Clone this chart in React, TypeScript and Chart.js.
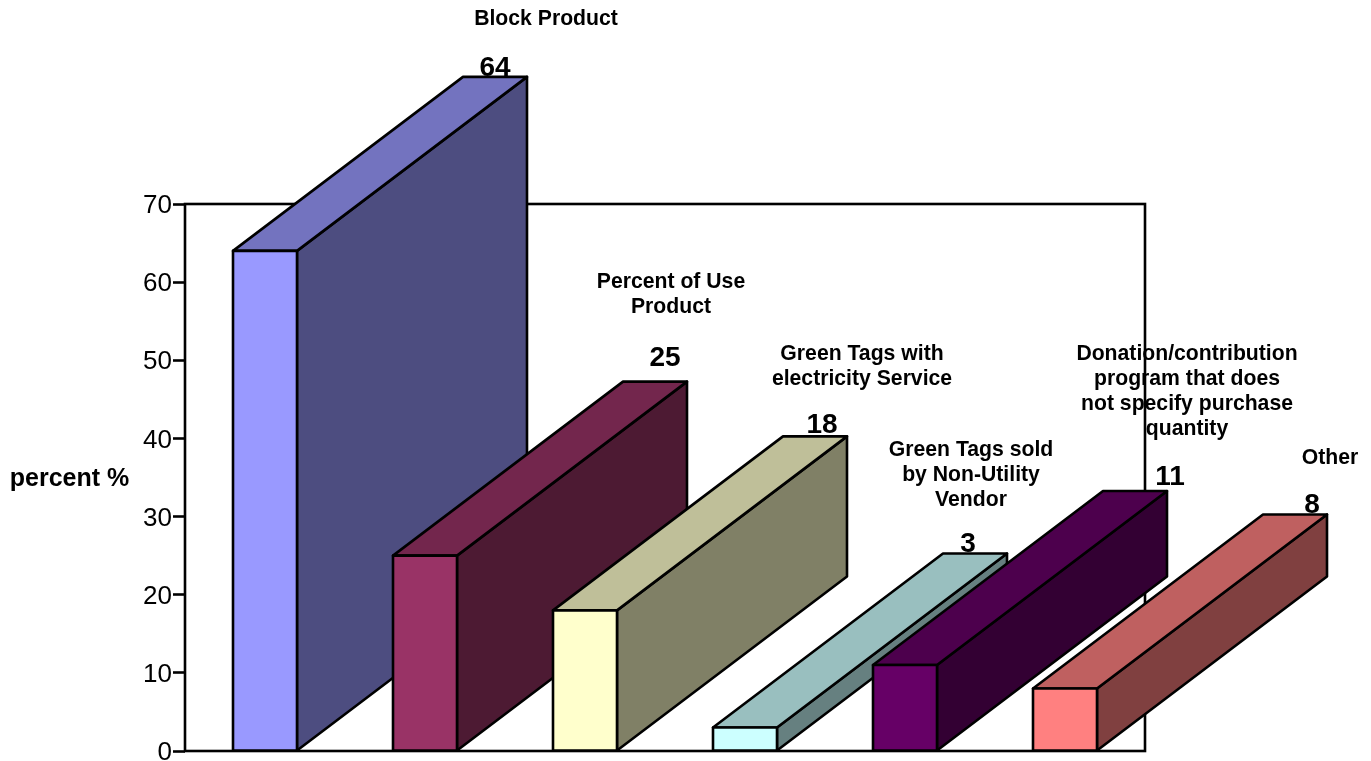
import React, { useEffect, useRef } from "react";
import { Chart, BarController, registerables } from "chart.js";

// Chart values
const categories = ["Block Product", "Percent of Use Product", "Green Tags with electricity Service", "Green Tags sold by Non-Utility Vendor", "Donation/contribution program that does not specify purchase quantity", "Other"];
const percentValues = [64, 25, 18, 3, 11, 8];
const yTicks = [0, 10, 20, 30, 40, 50, 60, 70];

// Wrapped caption lines for each bar
const captionLines = [
  ["Block Product"],
  ["Percent of Use", "Product"],
  ["Green Tags with", "electricity Service"],
  ["Green Tags sold", "by Non-Utility", "Vendor"],
  ["Donation/contribution", "program that does", "not specify purchase", "quantity"],
  ["Other"],
];

// Face colours of each box
const frontColors = ["#9999ff", "#993366", "#ffffcc", "#ccffff", "#660066", "#ff8080"];
const topColors = ["#7373bf", "#73264d", "#bfbf99", "#99bfbf", "#4d004d", "#bf6060"];
const sideColors = ["#4d4d80", "#4d1a33", "#808066", "#668080", "#330033", "#804040"];

// Box depth projected on the canvas
const DEPTH_X = 230;
const DEPTH_Y = 174;
const LINE = 2.6;
const FONT = '"Liberation Sans", Arial, sans-serif';

// Label anchors, relative to the back top-right corner of each box
const valueOffsets = [[-32, -9], [-22, -23], [-25, -11], [-39, -9], [3, -14], [-15, -9]];
const captionOffsets = [[19, -58], [-16, -99], [15, -82], [-36, -103], [20, -137], [3, -56]];

function polygon(ctx: CanvasRenderingContext2D, pts: number[][], fill: string) {
  ctx.beginPath();
  pts.forEach(([x, y], i) => (i ? ctx.lineTo(x, y) : ctx.moveTo(x, y)));
  ctx.closePath();
  ctx.fillStyle = fill;
  ctx.fill();
  ctx.stroke();
}

// Bar controller that extrudes every bar into a box, painting left to right
class Box3DController extends BarController {
  static id = "box3d";
  static defaults = BarController.defaults;
  static overrides = BarController.overrides;

  draw() {
    const ctx: CanvasRenderingContext2D = (this as any)._ctx;
    const rects = (this as any)._cachedMeta.data;
    rects.forEach((bar: any, i: number) => {
      const left = bar.x - bar.width / 2;
      const right = bar.x + bar.width / 2;
      const top = bar.y;
      const bottom = bar.base;
      ctx.save();
      ctx.strokeStyle = "#000";
      ctx.lineWidth = LINE;
      ctx.lineJoin = "round";
      polygon(ctx, [[right, top], [right + DEPTH_X, top - DEPTH_Y], [right + DEPTH_X, bottom - DEPTH_Y], [right, bottom]], sideColors[i]);
      polygon(ctx, [[left, top], [left + DEPTH_X, top - DEPTH_Y], [right + DEPTH_X, top - DEPTH_Y], [right, top]], topColors[i]);
      bar.draw(ctx);
      ctx.strokeRect(left, top, right - left, bottom - top);
      ctx.restore();
    });
  }
}

Chart.register(...registerables, Box3DController);

const plotFrame = {
  id: "plotFrame",
  beforeDatasetsDraw(chart: any) {
    const { ctx, chartArea: a } = chart;
    ctx.save();
    ctx.strokeStyle = "#000";
    ctx.lineWidth = LINE;
    ctx.strokeRect(a.left, a.top, a.right - a.left, a.bottom - a.top);
    ctx.restore();
  },
};

const boxLabels = {
  id: "boxLabels",
  afterDatasetsDraw(chart: any) {
    const { ctx, chartArea: a } = chart;
    const bars = chart.getDatasetMeta(0).data;
    ctx.save();
    ctx.fillStyle = "#000";
    ctx.textAlign = "center";
    ctx.textBaseline = "middle";
    bars.forEach((bar: any, i: number) => {
      const cx = bar.x + bar.width / 2 + DEPTH_X;
      const cy = bar.y - DEPTH_Y;
      ctx.font = `bold 28px ${FONT}`;
      ctx.fillText(String(percentValues[i]), cx + valueOffsets[i][0], cy + valueOffsets[i][1]);
      ctx.font = `bold 21.2px ${FONT}`;
      captionLines[i].forEach((line, k) => {
        ctx.fillText(line, cx + captionOffsets[i][0], cy + captionOffsets[i][1] + k * 25);
      });
    });
    ctx.font = `bold 25px ${FONT}`;
    ctx.fillText("percent %", 69.5, (a.top + a.bottom) / 2 + 2);
    ctx.restore();
  },
};

export default function App() {
  const ref = useRef<HTMLCanvasElement>(null);

  useEffect(() => {
    const chart = new Chart(ref.current!, {
      type: "box3d" as any,
      data: {
        labels: categories,
        datasets: [{
          data: percentValues,
          backgroundColor: frontColors,
          borderWidth: 0,
          barPercentage: 0.4,
          categoryPercentage: 1,
          clip: false as any,
        }],
      },
      plugins: [plotFrame, boxLabels],
      options: {
        responsive: false,
        animation: false,
        layout: { padding: { top: 204, right: 226, bottom: 10, left: 0 } },
        plugins: { legend: { display: false }, tooltip: { enabled: false } },
        scales: {
          x: { type: "category", display: false },
          y: {
            type: "linear",
            min: 0,
            max: 70,
            afterFit(scale: any) {
              scale.width = 185;
              scale.paddingTop = 0;
              scale.paddingBottom = 0;
            },
            afterBuildTicks(scale: any) { scale.ticks = yTicks.map((value) => ({ value })); },
            border: { display: false },
            grid: { drawOnChartArea: false, tickLength: 12, tickColor: "#000", tickWidth: LINE },
            ticks: { color: "#000", padding: 1, labelOffset: 2, font: { family: FONT, size: 26 } },
          },
        },
      },
    });
    return () => chart.destroy();
  }, []);

  return (
    <div style={{ position: "fixed", left: 0, top: 0, width: 1371, height: 761, background: "#fff" }}>
      <canvas ref={ref} width={1371} height={761} style={{ display: "block" }} />
    </div>
  );
}
